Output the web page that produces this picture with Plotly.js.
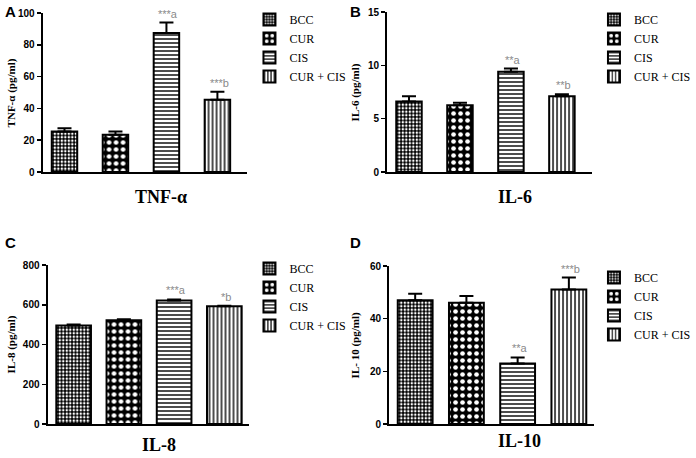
<!DOCTYPE html>
<html>
<head>
<meta charset="utf-8">
<script src="https://cdn.plot.ly/plotly-3.0.1.min.js"></script>
<style>
  html, body { margin: 0; padding: 0; background: white; }
  #chart { width: 696px; height: 458px; }
</style>
</head>
<body>
<div id="chart"></div>
<script>
// groups, same order in every panel
const groups = ['BCC', 'CUR', 'CIS', 'CUR + CIS'];

// mean and SEM
const tnfMean = [25.5, 23.5, 87.5, 45.5];
const tnfSem  = [2.0, 2.0, 6.5, 5.0];
const tnfSig  = ['', '', '***a', '***b'];

const il6Mean = [6.6, 6.25, 9.4, 7.1];
const il6Sem  = [0.5, 0.25, 0.3, 0.2];
const il6Sig  = ['', '', '**a', '**b'];

const il8Mean = [495, 522, 622, 592];
const il8Sem  = [6, 5, 5, 3];
const il8Sig  = ['', '', '***a', '*b'];

const il10Mean = [47.0, 46.0, 23.0, 51.1];
const il10Sem  = [2.5, 2.6, 2.3, 4.5];
const il10Sig  = ['', '', '**a', '***b'];

// pixel helpers (figure is 696 x 458)
const W = 696, H = 458;
function px(x){ return x / W; }
function py(y){ return 1 - y / H; }

const serif = 'Liberation Serif, Times New Roman, serif';
const sans = 'Liberation Sans, Arial, sans-serif';
const narrow = 'Liberation Sans Narrow, Arial Narrow, Liberation Sans, sans-serif';

const patterns = [
    {shape: '.', bgcolor: 'black', fgcolor: 'white', size: 3.5, solidity: 0.4, fillmode: 'replace'},
    {shape: '.', bgcolor: 'black', fgcolor: 'white', size: 7, solidity: 0.35, fillmode: 'replace'},
    {shape: '-', bgcolor: 'white', fgcolor: 'black', size: 4, solidity: 0.35, fillmode: 'replace'},
    {shape: '|', bgcolor: 'white', fgcolor: 'black', size: 4, solidity: 0.35, fillmode: 'replace'}
];

let data = [];
let layout = {
    width: W, height: H,
    margin: {l: 0, r: 0, t: 0, b: 0},
    paper_bgcolor: 'white',
    plot_bgcolor: 'white',
    barmode: 'overlay',
    showlegend: true,
    annotations: []
};

function panel(n, mean, sem, sig, cfg){
    let xa = n == 1 ? 'x' : 'x' + n;
    let ya = n == 1 ? 'y' : 'y' + n;
    let lg = n == 1 ? 'legend' : 'legend' + n;

    for(let i = 0; i < groups.length; i++){
        data.push({
            type: 'bar',
            x: [i],
            y: [mean[i]],
            name: groups[i],
            xaxis: xa, yaxis: ya, legend: lg,
            width: cfg.barw,
            marker: {color: 'white', line: {color: 'black', width: 2}, pattern: patterns[i]},
            error_y: {type: 'data', symmetric: false, array: [sem[i]], arrayminus: [0],
                      color: 'black', thickness: 2, width: 7},
            hoverinfo: 'skip'
        });
        if(sig[i]){
            layout.annotations.push({
                xref: xa, yref: ya, x: i, y: mean[i] + sem[i],
                text: sig[i], showarrow: false, yanchor: 'bottom', yshift: 1, xshift: 2,
                font: {family: sans, size: 11, color: '#8a8a8a'}
            });
        }
    }

    layout['xaxis' + (n == 1 ? '' : n)] = {
        domain: [px(cfg.x0), px(cfg.x1)], range: cfg.xr, anchor: ya,
        showticklabels: false, ticks: '', showgrid: false, zeroline: false,
        showline: true, linecolor: 'black', linewidth: 2, fixedrange: true
    };
    layout['yaxis' + (n == 1 ? '' : n)] = {
        domain: [py(cfg.y0), py(cfg.y1)], range: cfg.yr, dtick: cfg.dtick, anchor: xa,
        ticks: 'outside', ticklen: 4, tickwidth: 1.5, tickcolor: 'black',
        showgrid: false, zeroline: false,
        showline: true, linecolor: 'black', linewidth: 2, fixedrange: true,
        tickfont: {family: narrow, size: 10, weight: 'bold', color: 'black'}
    };
    layout[lg] = {
        x: px(cfg.lx), y: py(cfg.ly), xanchor: 'left', yanchor: 'top',
        bgcolor: 'rgba(0,0,0,0)', tracegroupgap: 0,
        font: {family: serif, size: 12, color: 'black'}
    };

    // panel letter
    layout.annotations.push({
        xref: 'paper', yref: 'paper', x: px(cfg.letterX), y: py(cfg.letterY),
        text: cfg.letter, showarrow: false, xanchor: 'center', yanchor: 'middle',
        font: {family: sans, size: 15, weight: 'bold', color: 'black'}
    });
    // y axis title
    layout.annotations.push({
        xref: 'paper', yref: 'paper', x: px(cfg.ytX), y: py((cfg.y0 + cfg.y1) / 2),
        text: cfg.ytitle, showarrow: false, textangle: -90,
        xanchor: 'center', yanchor: 'middle',
        font: {family: serif, size: 11, weight: 'bold', color: 'black'}
    });
    // panel title under the axis
    layout.annotations.push({
        xref: 'paper', yref: 'paper', x: px(cfg.titleX), y: py(cfg.titleY),
        text: cfg.title, showarrow: false, xanchor: 'center', yanchor: 'middle',
        font: {family: serif, size: 18, weight: 'bold', color: 'black'}
    });
}

panel(1, tnfMean, tnfSem, tnfSig, {
    x0: 43, x1: 250, y0: 172, y1: 13, xr: [-0.43, 3.59], yr: [0, 100], dtick: 20, barw: 0.5,
    lx: 252, ly: 5, letter: 'A', letterX: 11, letterY: 12, ytX: 12,
    ytitle: 'TNF-α (pg/ml)', title: 'TNF-α', titleX: 163, titleY: 197
});
panel(2, il6Mean, il6Sem, il6Sig, {
    x0: 391, x1: 598, y0: 172, y1: 12, xr: [-0.43, 3.59], yr: [0, 15], dtick: 5, barw: 0.5,
    lx: 600, ly: 5, letter: 'B', letterX: 359, letterY: 12, ytX: 359,
    ytitle: 'IL-6 (pg/ml)', title: 'IL-6', titleX: 520, titleY: 197
});
panel(3, il8Mean, il8Sem, il8Sig, {
    x0: 48, x1: 252, y0: 424, y1: 265, xr: [-0.52, 3.5], yr: [0, 800], dtick: 200, barw: 0.69,
    lx: 252, ly: 254, letter: 'C', letterX: 11, letterY: 243, ytX: 12,
    ytitle: 'IL-8 (pg/ml)', title: 'IL-8', titleX: 161, titleY: 445
});
panel(4, il10Mean, il10Sem, il10Sig, {
    x0: 393, x1: 600, y0: 424, y1: 266, xr: [-0.51, 3.49], yr: [0, 60], dtick: 20, barw: 0.68,
    lx: 600, ly: 263, letter: 'D', letterX: 359, letterY: 243, ytX: 359,
    ytitle: 'IL- 10 (pg/ml)', title: 'IL-10', titleX: 525, titleY: 441
});

Plotly.newPlot('chart', data, layout, {staticPlot: true, displayModeBar: false});
</script>
</body>
</html>
